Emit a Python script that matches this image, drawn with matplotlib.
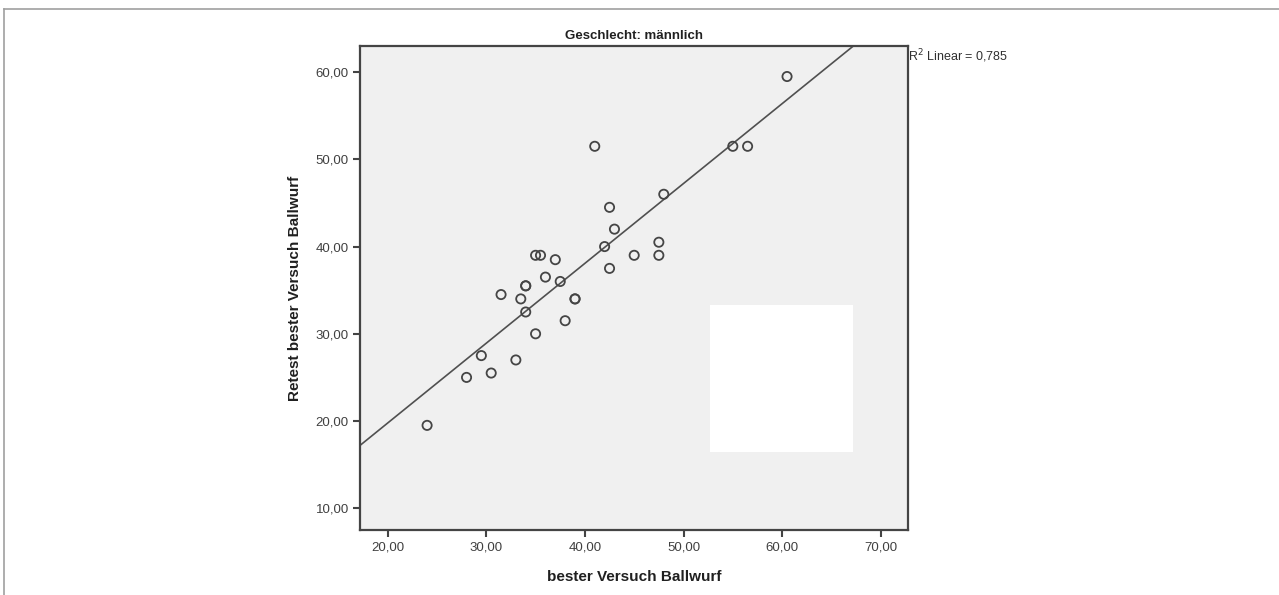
import numpy as np
import matplotlib
matplotlib.use("Agg")
import matplotlib.pyplot as plt
from matplotlib.patches import Rectangle
from matplotlib.lines import Line2D

plt.rcParams['font.family'] = ['Liberation Sans', 'DejaVu Sans']

# bester Versuch (x) vs. Retest (y), Geschlecht: männlich
best = [24.0, 28.0, 29.5, 30.5, 33.0, 35.0, 38.0, 34.0, 33.5, 39.0, 39.0,
        41.0, 48.0, 42.5, 43.0, 42.0, 47.5, 47.5, 45.0, 42.5, 35.0, 35.5,
        37.0, 36.0, 37.5, 34.0, 34.0, 31.5, 60.5, 55.0, 56.5]
retest = [19.5, 25.0, 27.5, 25.5, 27.0, 30.0, 31.5, 32.5, 34.0, 34.0, 34.0,
          51.5, 46.0, 44.5, 42.0, 40.0, 40.5, 39.0, 39.0, 37.5, 39.0, 39.0,
          38.5, 36.5, 36.0, 35.5, 35.5, 34.5, 59.5, 51.5, 51.5]
xticks = [20, 30, 40, 50, 60, 70]
yticks = [10, 20, 30, 40, 50, 60]
r2_text = "R$^2$ Linear = 0,785"

fig = plt.figure(figsize=(12.79, 5.95), dpi=100)
ax = fig.add_axes([0.2815, 0.1092, 0.4287, 0.8135])
ax.set_facecolor('#f0f0f0')

ax.set_xlim(17.2, 72.8)
ax.set_ylim(7.5, 63.0)

# Regressionsgerade
slope, icpt = np.polyfit(best, retest, 1)
xl = np.array([10, 80])
ax.plot(xl, slope * xl + icpt, color='#505050', lw=1.2, zorder=2)

ax.scatter(best, retest, s=44, facecolors='none', edgecolors='#454545',
           linewidths=1.3, zorder=3)

# weisses Feld (abgedeckte Legende)
ax.add_patch(Rectangle((0.638, 0.161), 0.261, 0.304, transform=ax.transAxes,
                       facecolor='white', edgecolor='none', zorder=4))

ax.set_xticks(xticks)
ax.set_yticks(yticks)
ax.set_xticklabels([f"{v},00" for v in xticks])
ax.set_yticklabels([f"{v},00" for v in yticks])
ax.tick_params(direction='out', length=5, width=1.5, color='#444444',
               labelsize=9.5, labelcolor='#404040', pad=3)
for s in ax.spines.values():
    s.set_color('#444444')
    s.set_linewidth(1.6)

ax.set_title("Geschlecht: männlich", fontsize=9.5, fontweight='bold',
             color='#202020', pad=5)
ax.set_xlabel("bester Versuch Ballwurf", fontsize=11, fontweight='bold',
              color='#202020', labelpad=12)
ax.set_ylabel("Retest bester Versuch Ballwurf", fontsize=11, fontweight='bold',
              color='#202020', labelpad=10)

fig.text(0.7102, 0.905, r2_text, fontsize=9, color='#303030',
         ha='left', va='center')

# Rahmen der Seite
fig.add_artist(Line2D([4 / 1279, 1], [1 - 9 / 595, 1 - 9 / 595],
                      color='#a0a0a0', lw=1.2))
fig.add_artist(Line2D([4 / 1279, 4 / 1279], [0, 1 - 9 / 595],
                      color='#a0a0a0', lw=1.2))

fig.savefig("out.png", dpi=100)
